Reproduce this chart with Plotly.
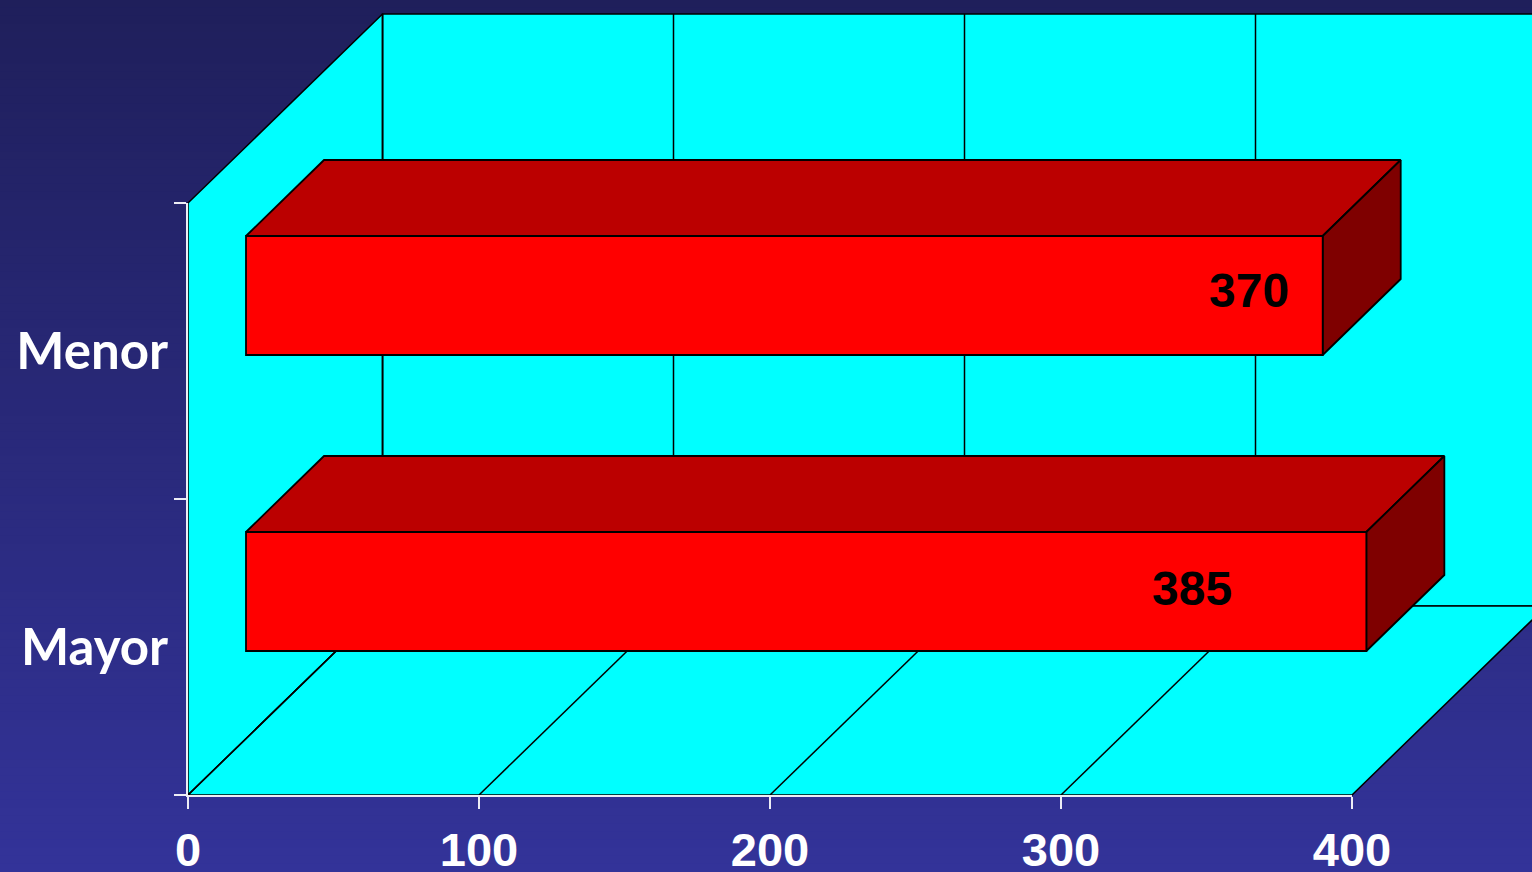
import plotly.graph_objects as go

categories = ["Mayor", "Menor"]
values = [385, 370]
value_labels = ["385", "370"]
x_ticks = [0, 100, 200, 300, 400]

W, H = 1532, 872
X0_PX, X1_PX = 188, 1352   # pixel span of the visible value axis
Y0_PX, Y1_PX = 795, 203    # pixel span of the visible category axis
X_MAX, Y_MAX = x_ticks[-1], float(len(categories))
PX_X = (X1_PX - X0_PX) / X_MAX
PX_Y = (Y0_PX - Y1_PX) / Y_MAX

# oblique-projection offsets, in data units
WALL_DX, WALL_DY = 194.5 / PX_X, 189 / PX_Y
BAR_DX, BAR_DY = 78 / PX_X, 76 / PX_Y
BAR_BASE = 58 / PX_X
BAR_WIDTH = 119 / PX_Y
BAR_BOTTOM = 144 / PX_Y   # height of each bar's front face above its category floor
CYAN, BLACK = "#00FFFF", "#000000"
LABEL_X = [345, 364.5]
LABEL_Y = [0.699, 1.703]

# ranges of the full-page hidden axes, on the same scale as the visible axes
X_FULL = [-X0_PX / PX_X, (W - X0_PX) / PX_X]
Y_FULL = [(Y0_PX - H) / PX_Y, Y0_PX / PX_Y]

fig = go.Figure()


def poly(xs, ys, fill=None, line=1.5):
    fig.add_trace(go.Scatter(
        x=xs, y=ys, mode="lines", xaxis="x", yaxis="y",
        fill="toself" if fill else None, fillcolor=fill,
        line=dict(color=BLACK, width=line), hoverinfo="skip", showlegend=False))


# walls and floor
poly([WALL_DX, X_MAX + WALL_DX, X_MAX + WALL_DX, WALL_DX, WALL_DX],
     [WALL_DY, WALL_DY, Y_MAX + WALL_DY, Y_MAX + WALL_DY, WALL_DY], CYAN)
poly([0, WALL_DX, WALL_DX, 0, 0], [0, WALL_DY, Y_MAX + WALL_DY, Y_MAX, 0], CYAN)
poly([0, WALL_DX, X_MAX + WALL_DX, X_MAX, 0], [0, WALL_DY, WALL_DY, 0, 0], CYAN)

# gridlines on back wall and floor
for t in x_ticks[:-1]:
    poly([t + WALL_DX, t + WALL_DX], [WALL_DY, Y_MAX + WALL_DY], line=1.5)
    poly([t, t + WALL_DX], [0, WALL_DY], line=1.5)

# bar top and side faces
for i, v in enumerate(values):
    x0, x1 = BAR_BASE, BAR_BASE + v
    y0, y1 = i + BAR_BOTTOM, i + BAR_BOTTOM + BAR_WIDTH
    poly([x0, x0 + BAR_DX, x1 + BAR_DX, x1, x0],
         [y1, y1 + BAR_DY, y1 + BAR_DY, y1, y1], "#BB0000", line=1.8)
    poly([x1, x1 + BAR_DX, x1 + BAR_DX, x1, x1],
         [y1, y1 + BAR_DY, y0 + BAR_DY, y0, y1], "#7F0000", line=1.8)

# carries the visible axes (value ticks and category labels)
fig.add_trace(go.Scatter(
    x=values, y=categories, mode="markers", marker=dict(opacity=0),
    xaxis="x2", yaxis="y2", hoverinfo="skip", showlegend=False))

# bar front faces, on a full-page subplot above the walls
fig.add_trace(go.Bar(
    x=values, y=categories, base=BAR_BASE, orientation="h",
    width=BAR_WIDTH, offset=BAR_BOTTOM - 0.5,
    marker=dict(color="#FF0000", line=dict(color=BLACK, width=1.8)),
    xaxis="x3", yaxis="y3", hoverinfo="skip", showlegend=False))

# vertical background gradient
STEPS = 109
top, bottom = (31, 31, 91), (51, 51, 153)
shapes = []
for s in range(STEPS):
    f = (s + 0.5) / STEPS
    c = [round(a + (b - a) * f) for a, b in zip(top, bottom)]
    shapes.append(dict(type="rect", xref="paper", yref="paper", layer="below",
                       x0=0, x1=1, y0=max(0, 1 - (s + 1) / STEPS), y1=min(1, 1 - s / STEPS + 0.001),
                       fillcolor=f"rgb({c[0]},{c[1]},{c[2]})", line=dict(width=0)))

annotations = [dict(x=x, y=y, xref="x", yref="y", text=t, showarrow=False,
                    font=dict(family="Liberation Sans", size=48, color=BLACK, weight="bold"))
               for x, y, t in zip(LABEL_X, LABEL_Y, value_labels)]

AXIS_C = "#EDEDF5"
fig.update_layout(
    template="none",
    width=W, height=H, margin=dict(l=0, r=0, t=0, b=0, pad=0), autosize=False,
    paper_bgcolor="#333399", plot_bgcolor="rgba(0,0,0,0)",
    shapes=shapes, annotations=annotations, showlegend=False,
    xaxis=dict(domain=[0, 1], range=X_FULL, visible=False),
    yaxis=dict(domain=[0, 1], range=Y_FULL, visible=False),
    xaxis3=dict(domain=[0, 1], range=X_FULL, visible=False, anchor="y3"),
    yaxis3=dict(domain=[0, 1], range=[v - 0.5 for v in Y_FULL], visible=False, anchor="x3",
                type="category", categoryorder="array", categoryarray=categories),
    xaxis2=dict(domain=[X0_PX / W, X1_PX / W], range=[0, X_MAX], tickvals=x_ticks, anchor="y2",
                showgrid=False, zeroline=False, showline=True, linecolor=AXIS_C, linewidth=1.5,
                ticks="outside", ticklen=12, tickwidth=1.5, tickcolor=AXIS_C, ticklabelstandoff=1,
                tickfont=dict(family="Liberation Sans", size=47, color="#FFFFFF", weight="bold")),
    yaxis2=dict(domain=[(H - Y0_PX) / H, (H - Y1_PX) / H], range=[-0.5, len(categories) - 0.5], anchor="x2",
                side="left", type="category", categoryorder="array", categoryarray=categories,
                tickson="boundaries", showgrid=False, zeroline=False,
                showline=True, linecolor=AXIS_C, linewidth=1.5,
                ticks="outside", ticklen=12, tickwidth=1.5, tickcolor=AXIS_C, ticklabelstandoff=8,
                tickfont=dict(family="Comic Sans MS, Lato", size=51, color="#FFFFFF", weight="bold")),
)

fig.write_html("out.html", config={"displayModeBar": False},
               post_script="document.body.style.margin='0';document.body.style.overflow='hidden';")
